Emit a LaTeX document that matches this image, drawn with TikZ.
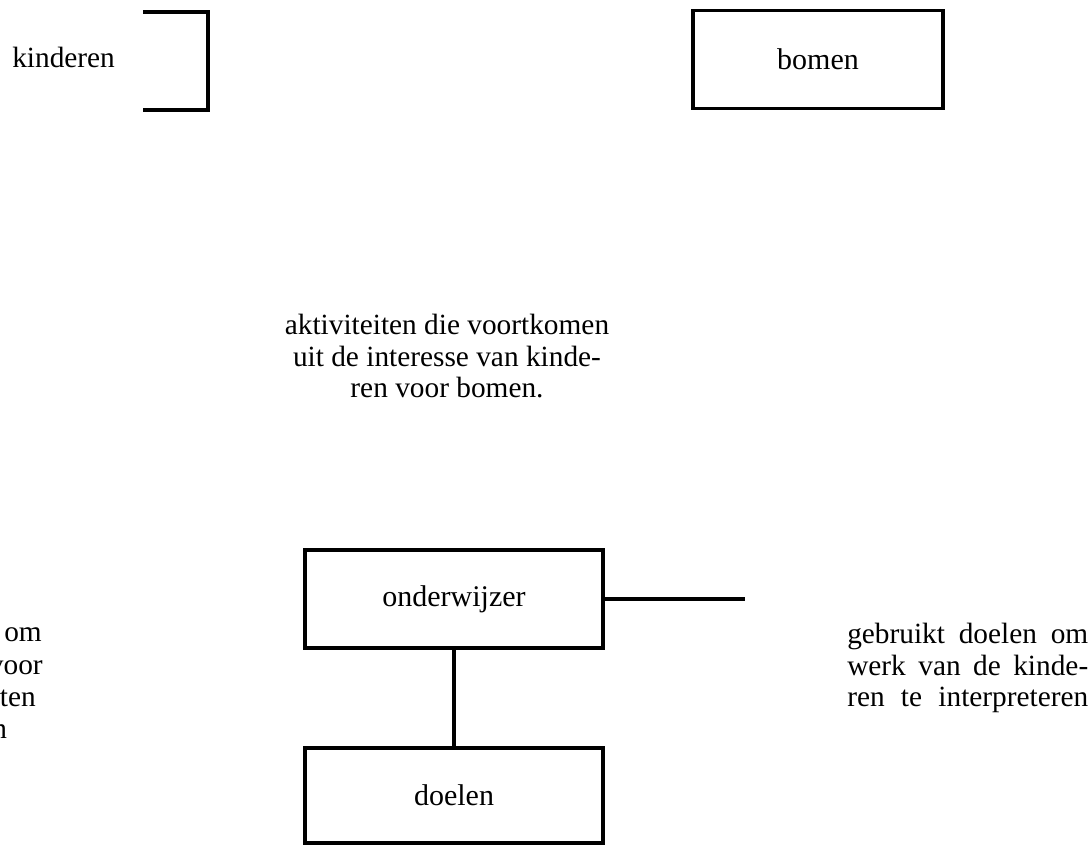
\documentclass[tikz,border=0pt]{standalone}
\usepackage{fontspec}
\setmainfont{Liberation Serif}
\newcommand\txtsize{\fontsize{22}{23.6}\selectfont}
\newcommand\boxsize{\fontsize{22.5}{24}\selectfont}
\tikzset{
  blok/.style={draw, line width=2.8pt, minimum width=223.5pt, minimum height=73.5pt, font=\boxsize, inner sep=0pt},
  lijn/.style={line width=2.8pt},
  tekst/.style={font=\txtsize, inner sep=0pt}
}
\begin{document}
\begin{tikzpicture}[x=0.75pt,y=-0.75pt]
            \useasboundingbox (0,0) rectangle (1090,845);
            % bovenste rij
            \node[tekst, anchor=base west] (kinderen) at (12,68) {kinderen};
            \draw[lijn] (143,12) -- (208,12) -- (208,110) -- (143,110);
            \node[blok, minimum width=187.5pt] (bomen) at (818,59.5) {bomen};
            % midden
            \node[tekst, align=center, anchor=north] (aktiviteiten) at (447,314)
                {aktiviteiten die voortkomen\\uit de interesse van kinde-\\ren voor bomen.};
            % onderwijzer en doelen
            \node[blok] (onderwijzer) at (454,599) {onderwijzer};
            \node[blok, minimum height=71.25pt] (doelen) at (454,795.5) {doelen};
            \coordinate (rechts) at (745,599);
            \draw[lijn] (onderwijzer.east) -- (rechts);
            \draw[lijn] (onderwijzer.south) -- (doelen.north);
            % tekst rechts
            \node[tekst, align=left, anchor=north west] (gebruikt) at (847,623)
                {\makebox[180.75pt][s]{gebruikt doelen om}\\
                 \makebox[180.75pt][s]{werk van de kinde-}\\
                 \makebox[180.75pt][s]{ren te interpreteren}};
            % tekst links, afgesneden
            \foreach \t/\x/\y [count=\i] in {om/42/641.5, voor/43/674.5, ten/36/706.5}
                \node[tekst, anchor=base east] (links\i) at (\x,\y) {\t};
            \node[tekst, anchor=base west] (links4) at (-8,738) {n};
        \end{tikzpicture}
\end{document}
